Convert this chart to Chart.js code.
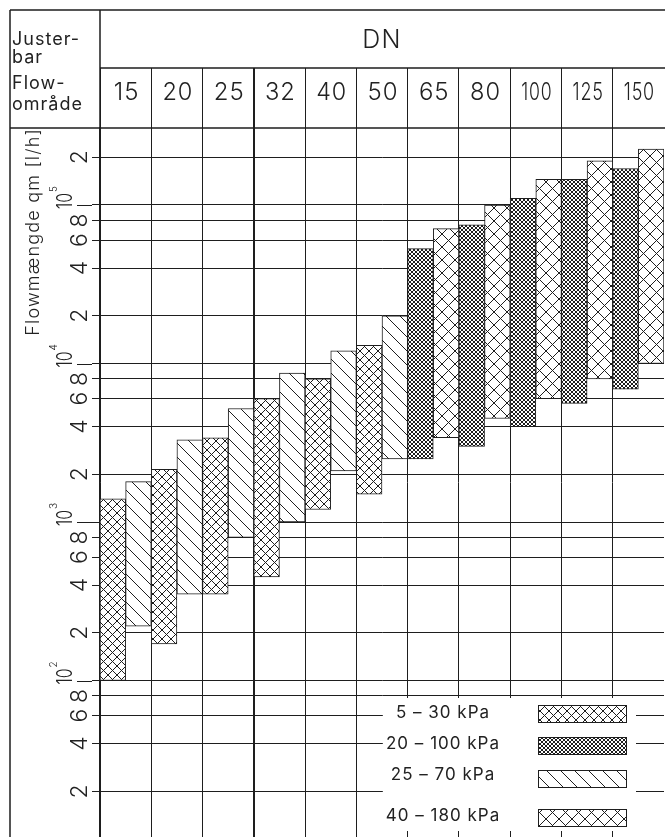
<!DOCTYPE html>
<html>
<head>
<meta charset="utf-8">
<title>Justerbar flowområde</title>
<script src="https://cdn.jsdelivr.net/npm/chart.js@4.4.1/dist/chart.umd.min.js"></script>
<style>
  html, body { margin: 0; padding: 0; background: #fff; }
  canvas { display: block; }
</style>
</head>
<body>
<canvas id="chart" width="665" height="837"></canvas>
<script>
// Valve sizes (DN) along the top of the table
const DN = ['15', '20', '25', '32', '40', '50', '65', '80', '100', '125', '150'];

// Adjustable flow range [min, max] in l/h for each DN; null where the series has no size
const range5to30   = [[100, 1400], [170, 2150], [350, 3400], [450, 6000], [1200, 8000], [1500, 13000], null, null, null, null, null];
const range20to100 = [null, null, null, null, null, null, [2500, 53000], [3000, 75000], [4000, 110000], [5600, 145000], [6900, 170000]];
const range25to70  = [[220, 1800], [350, 3300], [800, 5200], [1000, 8700], [2100, 12000], [2500, 20000], null, null, null, null, null];
const range40to180 = [null, null, null, null, null, null, [3400, 71000], [4500, 100000], [6000, 145000], [8000, 190000], [10000, 225000]];

const seriesLabels = ['5 – 30 kPa', '20 – 100 kPa', '25 – 70 kPa', '40 – 180 kPa'];

// Log axis: grid lines at 1, 2, 4, 6, 8 × 10^n
const yMantissas = [1, 2, 4, 6, 8];
const yDecades = [1, 2, 3, 4, 5];
const yMin = 10.3;
const yMax = 306000;

const headerText = ['Juster-', 'bar', 'Flow-', 'område'];
const yTitle = 'Flowmængde qm [l/h]';
const xTitle = 'DN';

const INK = '#1e1e1e';
const TEXT = '#222';
const LIGHT = 'Inter, "Noto Sans", sans-serif';

const canvas = document.getElementById('chart');
const ctx = canvas.getContext('2d');

// Hatch fill: period = horizontal distance between parallel lines
function hatch(period, dirs, lw) {
  const c = document.createElement('canvas');
  c.width = c.height = period;
  const g = c.getContext('2d');
  g.fillStyle = '#fff';
  g.fillRect(0, 0, period, period);
  g.strokeStyle = INK;
  g.lineWidth = lw;
  g.beginPath();
  for (const k of [-1, 0, 1]) {
    if (dirs.includes('\\')) { g.moveTo(k * period - 1, -1); g.lineTo(k * period + period + 1, period + 1); }
    if (dirs.includes('/')) { g.moveTo(k * period - 1, period + 1); g.lineTo(k * period + period + 1, -1); }
  }
  g.stroke();
  return ctx.createPattern(c, 'repeat');
}

const fills = [
  hatch(9, ['\\', '/'], 1),   // 5 – 30 kPa
  hatch(4, ['\\', '/'], 1),   // 20 – 100 kPa
  hatch(14, ['\\'], 1),       // 25 – 70 kPa
  hatch(13, ['\\', '/'], 1)   // 40 – 180 kPa
];

const seriesData = [range5to30, range20to100, range25to70, range40to180];
const seriesSlot = ['left', 'left', 'right', 'right'];

const datasets = seriesData.map((data, i) => ({
  label: seriesLabels[i],
  data,
  stack: seriesSlot[i],
  backgroundColor: fills[i],
  borderColor: INK,
  borderWidth: 1,
  borderSkipped: false,
  categoryPercentage: 1,
  barPercentage: 1
}));

// White page behind everything; axis titles use a slightly open letter spacing
const background = {
  id: 'background',
  beforeDraw(chart) {
    const c = chart.ctx;
    c.save();
    c.fillStyle = '#fff';
    c.fillRect(0, 0, chart.width, chart.height);
    c.restore();
    c.letterSpacing = '1.2px';
  },
  afterDraw(chart) {
    chart.ctx.letterSpacing = '0px';
  }
};

// Table frame, header text, DN numbers and log-axis labels
const tableFrame = {
  id: 'tableFrame',
  afterDraw(chart) {
    const c = chart.ctx;
    const xs = chart.scales.x;
    const ys = chart.scales.y;
    const area = chart.chartArea;
    const left = ys.left;
    const top = xs.top;
    const right = chart.width;
    const midRow = area.top - xs.options.grid.tickLength;

    c.save();
    c.letterSpacing = '0px';
    // frame lines
    c.strokeStyle = INK;
    c.lineWidth = 1.5;
    c.beginPath();
    c.moveTo(left, top); c.lineTo(right, top);
    c.moveTo(left, top); c.lineTo(left, chart.height);
    c.moveTo(area.left, top); c.lineTo(area.left, area.top);
    c.moveTo(area.left, midRow); c.lineTo(right, midRow);
    c.moveTo(left, area.top); c.lineTo(right, area.top);
    c.stroke();

    // longer stubs at each decade
    c.lineWidth = 1;
    c.beginPath();
    const tl = ys.options.grid.tickLength;
    ys.ticks.forEach(t => {
      const m = Math.round(t.value / Math.pow(10, Math.floor(Math.log10(t.value) + 1e-9)));
      if (m === 1) {
        const y = Math.round(ys.getPixelForValue(t.value)) + 0.5;
        c.moveTo(ys.right - tl - 15, y);
        c.lineTo(ys.right - tl, y);
      }
    });
    c.stroke();

    // header text in the first column
    c.fillStyle = TEXT;
    c.font = '400 18px Inter, "Noto Sans", sans-serif';
    c.letterSpacing = '1px';
    c.textAlign = 'left';
    c.textBaseline = 'alphabetic';
    const baselines = [45, 63, 89, 110];
    headerText.forEach((s, i) => c.fillText(s, left + 2, baselines[i]));

    // DN numbers, squeezed into the column when too wide
    c.font = '300 24px ' + LIGHT;
    c.letterSpacing = '1px';
    c.textAlign = 'center';
    xs.ticks.forEach((t, i) => {
      c.fillText(xs.getLabelForValue(t.value), xs.getPixelForTick(i) + 1, area.top - 28, 31);
    });

    // rotated log-axis labels
    c.letterSpacing = '0px';
    ys.ticks.forEach(t => {
      const e = Math.floor(Math.log10(t.value) + 1e-9);
      const m = Math.round(t.value / Math.pow(10, e));
      const y = ys.getPixelForValue(t.value);
      c.save();
      if (m === 1) {
        c.translate(ys.right - 28, y);
        c.rotate(-Math.PI / 2);
        c.font = '300 22px ' + LIGHT;
        c.textAlign = 'left';
        c.fillText('10', -4, 0, 16);
        const w = Math.min(16, c.measureText('10').width);
        c.font = '300 10px ' + LIGHT;
        c.fillText(String(e), -4 + w + 1, -15);
      } else {
        c.translate(ys.right - 13, y);
        c.rotate(-Math.PI / 2);
        c.font = '300 23px ' + LIGHT;
        c.textAlign = 'center';
        c.fillText(String(m), 0, 0);
      }
      c.restore();
    });
    c.restore();
  }
};

// Legend box inside the lower right of the plot
const legendBox = {
  id: 'legendBox',
  afterDraw(chart) {
    const c = chart.ctx;
    const box = { x: 383, y: 698, w: 253, h: 133 };
    const textX = 443;
    const baselines = [718, 749, 780, 821];
    const swatchTops = [705, 737, 770, 809];
    const swatchH = 17;
    const swatchX = 538, swatchW = 88;
    c.save();
    c.fillStyle = '#fff';
    c.fillRect(box.x, box.y, box.w, box.h);
    c.font = '400 17px Inter, "Noto Sans", sans-serif';
    c.letterSpacing = '1px';
    c.textAlign = 'center';
    c.textBaseline = 'alphabetic';
    chart.data.datasets.forEach((ds, i) => {
      c.fillStyle = TEXT;
      c.fillText(ds.label, textX, baselines[i]);
      c.fillStyle = ds.backgroundColor;
      c.fillRect(swatchX, swatchTops[i], swatchW, swatchH);
      c.strokeStyle = INK;
      c.lineWidth = 1;
      c.strokeRect(swatchX + 0.5, swatchTops[i] + 0.5, swatchW, swatchH);
    });
    c.restore();
  }
};

new Chart(ctx, {
  type: 'bar',
  data: { labels: DN, datasets },
  options: {
    responsive: false,
    animation: false,
    events: [],
    layout: { padding: { left: 10, top: 10, right: 1, bottom: 0 } },
    plugins: {
      legend: { display: false },
      tooltip: { enabled: false }
    },
    scales: {
      x: {
        type: 'category',
        position: 'top',
        stacked: true,
        offset: true,
        grid: {
          offset: true,
          tickLength: 60,
          color: c => (c.index === undefined ? 'rgba(0,0,0,0)' : INK),
          lineWidth: c => (c.index === 3 ? 2 : 1)
        },
        border: { display: false },
        ticks: { display: false },
        title: {
          display: true,
          text: xTitle,
          color: TEXT,
          font: { family: LIGHT, size: 25, weight: 300 },
          padding: { top: 15, bottom: 0 }
        },
        afterFit: s => { s.height = 118; }
      },
      y: {
        type: 'logarithmic',
        min: yMin,
        max: yMax,
        stacked: false,
        afterBuildTicks: s => {
          const ticks = [];
          yDecades.forEach(e => yMantissas.forEach(m => {
            const v = m * Math.pow(10, e);
            if (v >= s.min && v <= s.max) ticks.push({ value: v, major: m === 1 });
          }));
          s.ticks = ticks;
        },
        grid: { color: INK, lineWidth: 1, tickLength: 8 },
        border: { color: INK, width: 1.5 },
        ticks: { display: false },
        title: {
          display: true,
          text: yTitle,
          align: 'end',
          color: TEXT,
          font: { family: LIGHT, size: 18, weight: 300 },
          padding: { top: 13, bottom: 0 }
        },
        afterFit: s => { s.width = 90; }
      }
    }
  },
  plugins: [background, tableFrame, legendBox]
});
</script>
</body>
</html>
